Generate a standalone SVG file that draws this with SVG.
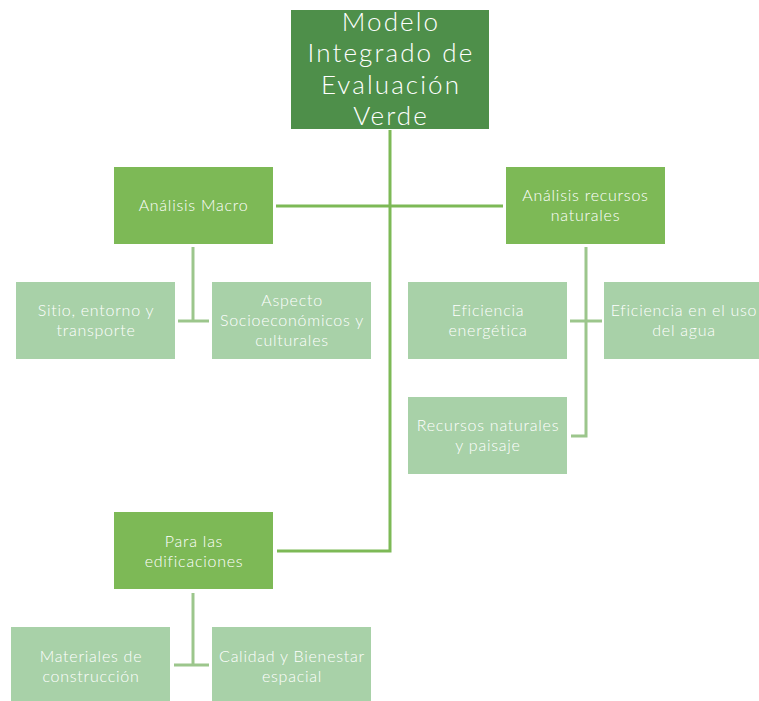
<svg xmlns="http://www.w3.org/2000/svg" width="759" height="701" viewBox="0 0 759 701">
<style>
.t{font-family:Lato,"Open Sans","Liberation Sans",sans-serif;font-weight:300;fill:#ffffff;text-anchor:middle}
.s{font-size:16px;letter-spacing:0.75px}
.big{font-size:26px;letter-spacing:2.1px}
.dark{fill:#4e8f4a}
.mid{fill:#7db956}
.light{fill:#a8d1a8}
.c1{stroke:#7db956;stroke-width:3;fill:none}
.c2{stroke:#9cc68c;stroke-width:3;fill:none}
</style>
<rect width="759" height="701" fill="#ffffff"/>
<g id="connectors">
<polyline class="c1" points="390,130 390,551 277,551"/>
<line class="c1" x1="276" y1="206" x2="503" y2="206"/>
<line class="c2" x1="193" y1="247" x2="193" y2="321"/>
<line class="c2" x1="178" y1="321" x2="209" y2="321"/>
<polyline class="c2" points="586,247 586,436 571,436"/>
<line class="c2" x1="570" y1="321" x2="602" y2="321"/>
<line class="c2" x1="193" y1="593" x2="193" y2="665"/>
<line class="c2" x1="174" y1="665" x2="209" y2="665"/>
</g>
<g id="root">
<rect class="dark" x="291" y="10" width="198" height="119"/>
<text class="t big" x="391" y="31">Modelo</text>
<text class="t big" x="391" y="62">Integrado de</text>
<text class="t big" x="391" y="94">Evaluación</text>
<text class="t big" x="391" y="125">Verde</text>
</g>
<g id="macro">
<rect class="mid" x="114" y="167" width="159" height="77"/>
<text class="t s" x="193.5" y="211">Análisis Macro</text>
</g>
<g id="recursos">
<rect class="mid" x="506" y="167" width="159" height="77"/>
<text class="t s" x="585.5" y="201">Análisis recursos</text>
<text class="t s" x="585.5" y="221">naturales</text>
</g>
<g id="sitio">
<rect class="light" x="16" y="282" width="159" height="77"/>
<text class="t s" x="96" y="316">Sitio, entorno y</text>
<text class="t s" x="96" y="336">transporte</text>
</g>
<g id="aspecto">
<rect class="light" x="212" y="282" width="159" height="77"/>
<text class="t s" x="292" y="306">Aspecto</text>
<text class="t s" x="292" y="326">Socioeconómicos y</text>
<text class="t s" x="292" y="346">culturales</text>
</g>
<g id="energetica">
<rect class="light" x="408" y="282" width="159" height="77"/>
<text class="t s" x="488" y="316">Eficiencia</text>
<text class="t s" x="488" y="336">energética</text>
</g>
<g id="agua">
<rect class="light" x="604" y="282" width="159" height="77"/>
<text class="t s" x="684" y="316">Eficiencia en el uso</text>
<text class="t s" x="684" y="336">del agua</text>
</g>
<g id="paisaje">
<rect class="light" x="408" y="397" width="159" height="77"/>
<text class="t s" x="488" y="431">Recursos naturales</text>
<text class="t s" x="488" y="451">y paisaje</text>
</g>
<g id="edificaciones">
<rect class="mid" x="114" y="512" width="159" height="77"/>
<text class="t s" x="194" y="547">Para las</text>
<text class="t s" x="194" y="567">edificaciones</text>
</g>
<g id="materiales">
<rect class="light" x="11" y="627" width="159" height="77"/>
<text class="t s" x="91" y="662">Materiales de</text>
<text class="t s" x="91" y="682">construcción</text>
</g>
<g id="calidad">
<rect class="light" x="212" y="627" width="159" height="77"/>
<text class="t s" x="292" y="662">Calidad y Bienestar</text>
<text class="t s" x="292" y="682">espacial</text>
</g>
</svg>
